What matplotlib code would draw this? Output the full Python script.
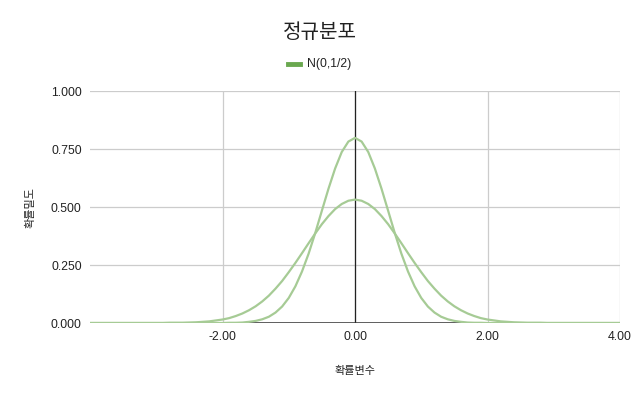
import matplotlib
matplotlib.use("Agg")
from matplotlib import pyplot as plt

plt.rcParams['font.family'] = ['Liberation Sans', 'Noto Sans CJK KR', 'DejaVu Sans']

# x values (random variable)
x_vals = [-4.0,
          -3.0, -2.9, -2.8, -2.7, -2.6, -2.5, -2.4, -2.3, -2.2, -2.1,
          -2.0, -1.9, -1.8, -1.7, -1.6, -1.5, -1.4, -1.3, -1.2, -1.1,
          -1.0, -0.9, -0.8, -0.7, -0.6, -0.5, -0.4, -0.3, -0.2, -0.1,
          0.0,
          0.1, 0.2, 0.3, 0.4, 0.5, 0.6, 0.7, 0.8, 0.9, 1.0,
          1.1, 1.2, 1.3, 1.4, 1.5, 1.6, 1.7, 1.8, 1.9, 2.0,
          2.1, 2.2, 2.3, 2.4, 2.5, 2.6, 2.7, 2.8, 2.9, 3.0,
          4.0]

# narrow curve (peak ~0.80)
pdf_narrow = [0.0,
              0.0, 0.0, 0.0, 0.0, 0.0, 0.0, 0.0, 0.0, 0.0, 0.0,
              0.000, 0.001, 0.001, 0.002, 0.005, 0.009, 0.016, 0.027, 0.045, 0.071,
              0.108, 0.158, 0.222, 0.299, 0.388, 0.484, 0.579, 0.666, 0.737, 0.782,
              0.798,
              0.782, 0.737, 0.666, 0.579, 0.484, 0.388, 0.299, 0.222, 0.158, 0.108,
              0.071, 0.045, 0.027, 0.016, 0.009, 0.005, 0.002, 0.001, 0.001, 0.000,
              0.0, 0.0, 0.0, 0.0, 0.0, 0.0, 0.0, 0.0, 0.0, 0.0,
              0.0]

# wide curve (peak ~0.53)
pdf_wide = [0.0,
            0.000, 0.000, 0.001, 0.001, 0.001, 0.002, 0.003, 0.005, 0.007, 0.011,
            0.015, 0.021, 0.030, 0.041, 0.055, 0.072, 0.093, 0.118, 0.148, 0.181,
            0.219, 0.259, 0.301, 0.344, 0.386, 0.426, 0.461, 0.491, 0.513, 0.527,
            0.532,
            0.527, 0.513, 0.491, 0.461, 0.426, 0.386, 0.344, 0.301, 0.259, 0.219,
            0.181, 0.148, 0.118, 0.093, 0.072, 0.055, 0.041, 0.030, 0.021, 0.015,
            0.011, 0.007, 0.005, 0.003, 0.002, 0.001, 0.001, 0.001, 0.000, 0.000,
            0.0]

x_ticks = [-2, 0, 2, 4]
x_tick_labels = ["-2.00", "0.00", "2.00", "4.00"]
y_ticks = [0, 0.25, 0.5, 0.75, 1.0]
y_tick_labels = ["0.000", "0.250", "0.500", "0.750", "1.000"]

line_c = '#a6cb95'
txt_c = '#222222'

fig = plt.figure(figsize=(6.4, 3.96), dpi=100)
ax = fig.add_axes([90/640, 1-323/396, 530/640, 232/396])

for v in x_ticks:
    ax.axvline(v, color='#cccccc', lw=0.9, zorder=0)
for v in y_ticks[1:]:
    ax.axhline(v, color='#cccccc', lw=0.9, zorder=0)
ax.axvline(0, color='#222222', lw=0.9, zorder=1)
ax.axhline(0, color='#333333', lw=1.1, zorder=1)

ax.plot(x_vals, pdf_narrow, color=line_c, lw=1.6, zorder=3)
ax.plot(x_vals, pdf_wide, color=line_c, lw=1.6, zorder=3)

ax.set_xlim(-4, 4)
ax.set_ylim(0, 1.0)
ax.set_xticks(x_ticks)
ax.set_xticklabels(x_tick_labels)
ax.set_yticks(y_ticks)
ax.set_yticklabels(y_tick_labels)
ax.tick_params(length=0, labelsize=8.8, colors=txt_c, pad=6)
for s in ax.spines.values():
    s.set_visible(False)

ax.set_xlabel("확률변수", fontsize=8, color=txt_c, labelpad=16)
ax.set_ylabel("확률밀도", fontsize=8, color=txt_c, labelpad=11)

fig.text(0.5, 1-32/396, "정규분포", ha='center', va='center', fontsize=14.5, color=txt_c)
# legend
fig.lines.append(plt.Line2D([288/640, 300/640], [1-64/396, 1-64/396],
                            transform=fig.transFigure, color='#6aa84f', lw=3.5))
fig.text(307/640, 1-64/396, "N(0,1/2)", ha='left', va='center', fontsize=8.8, color=txt_c)

fig.savefig("out.png", dpi=100)
